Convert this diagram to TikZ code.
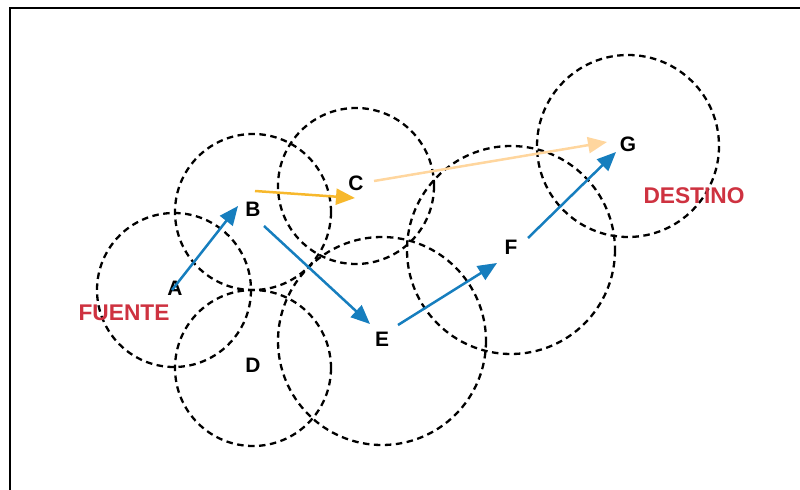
\documentclass[tikz,border=0pt]{standalone}
\usepackage{fontspec}
\setmainfont{Liberation Sans}
\usetikzlibrary{arrows.meta}
\definecolor{arrblue}{RGB}{22,126,190}
\definecolor{arryel}{RGB}{247,184,44}
\definecolor{arrlight}{RGB}{255,214,158}
\definecolor{lblred}{RGB}{206,50,64}
\begin{document}
\begin{tikzpicture}[x=1bp,y=-1bp,
  rangecircle/.style={draw=black,dash pattern=on 6.5bp off 4.5bp,line width=2.3bp},
  nodelbl/.style={font=\fontsize{21}{21}\selectfont\bfseries,inner sep=0pt,text=black},
  redlbl/.style={font=\fontsize{22.8}{23}\selectfont\bfseries,inner sep=0pt,text=lblred},
  hop/.style={line width=2.5bp,-{Triangle[length=19bp,width=16bp]}},
  frameline/.style={line width=2bp,draw=black}]
\useasboundingbox (0,0) rectangle (800,490);
\draw[frameline] (10,490) -- (10,8) -- (800,8);
% ranges
\draw[rangecircle] (174,290) circle[radius=77];
\draw[rangecircle] (253,212) circle[radius=78];
\draw[rangecircle] (356,186) circle[radius=78];
\draw[rangecircle] (253,368) circle[radius=78];
\draw[rangecircle] (382,341) circle[radius=104];
\draw[rangecircle] (511,250) circle[radius=104];
\draw[rangecircle] (628,146) circle[radius=91];
% labels
\node[nodelbl] (A) at (175,288) {A};
\node[nodelbl] (B) at (253,209) {B};
\node[nodelbl] (C) at (356,183) {C};
\node[nodelbl] (D) at (253,365) {D};
\node[nodelbl] (E) at (382,339) {E};
\node[nodelbl] (F) at (511,247) {F};
\node[nodelbl] (G) at (628,144) {G};
\node[redlbl] (fuente) at (124,313) {FUENTE};
\node[redlbl] (destino) at (694,196) {DESTINO};
% arrow ends
\coordinate (ab1) at (172,290);
\coordinate (ab2) at (238,206);
\coordinate (be1) at (264,226);
\coordinate (be2) at (370,324);
\coordinate (ef1) at (398,325);
\coordinate (ef2) at (497,263);
\coordinate (fg1) at (528,238);
\coordinate (fg2) at (616,152);
\coordinate (bc1) at (255,191);
\coordinate (bc2) at (355,198);
\coordinate (cg1) at (374,181);
\coordinate (cg2) at (607,142);
\draw[hop,arrblue] (ab1) -- (ab2);
\draw[hop,arrblue] (be1) -- (be2);
\draw[hop,arrblue] (ef1) -- (ef2);
\draw[hop,arrblue] (fg1) -- (fg2);
\draw[hop,arryel] (bc1) -- (bc2);
\draw[hop,arrlight] (cg1) -- (cg2);
\end{tikzpicture}
\end{document}
